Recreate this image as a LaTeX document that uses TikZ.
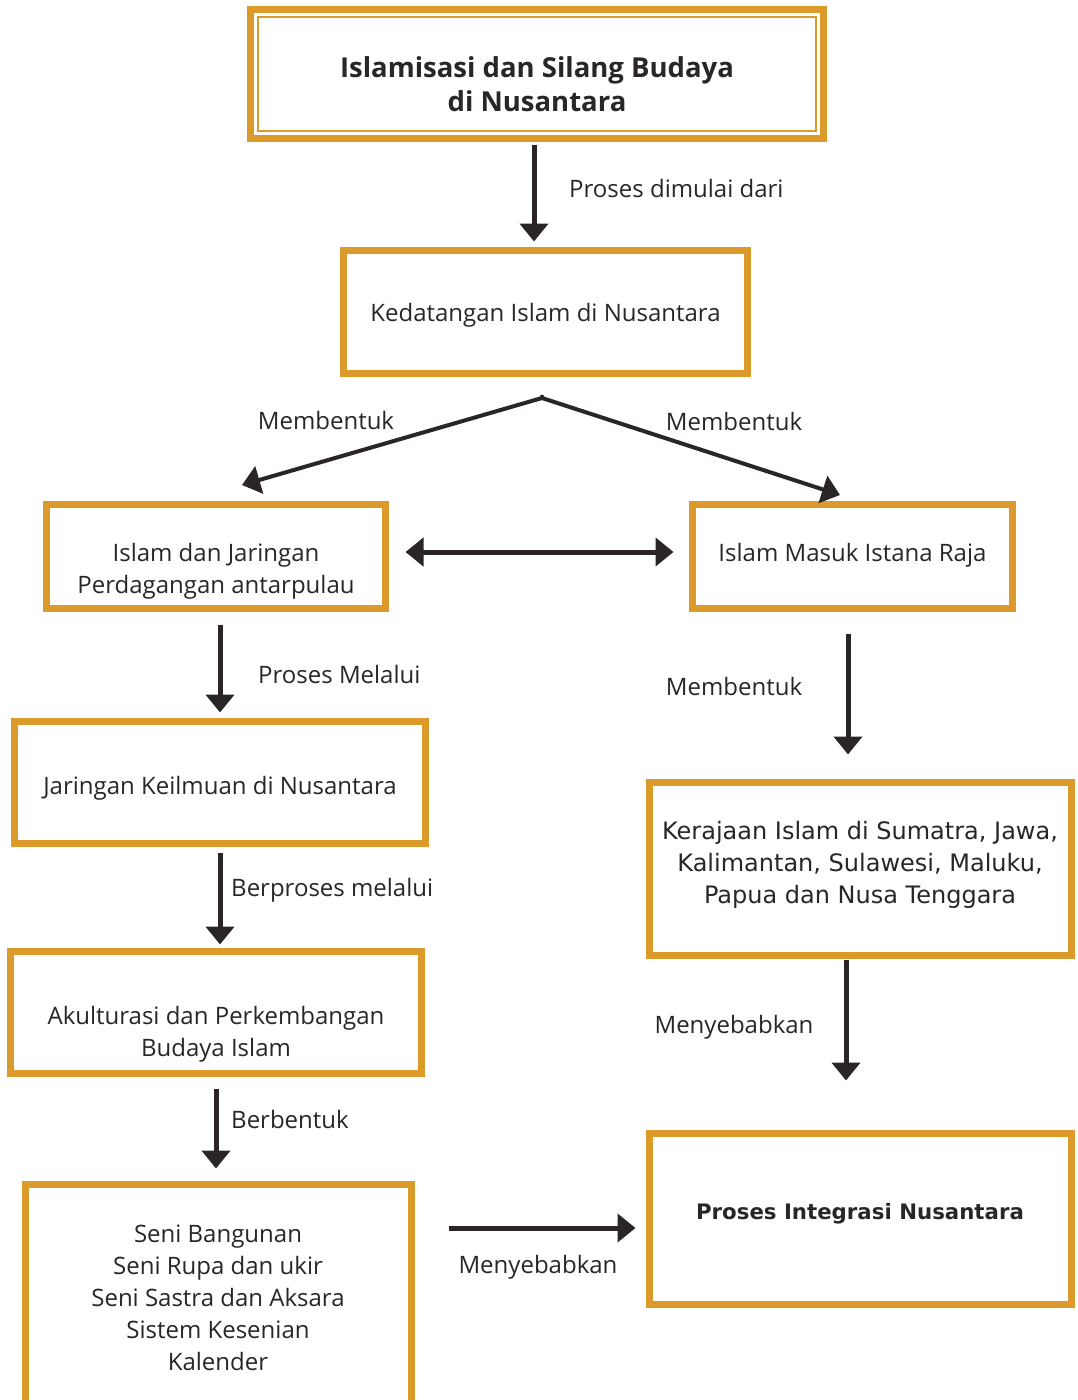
\documentclass[tikz,border=0pt]{standalone}
\usepackage{fontspec}
\setmainfont{Open Sans}
\newfontfamily\kfont{DejaVu Sans}
\usetikzlibrary{arrows.meta}
\definecolor{bx}{HTML}{DC9A2A}
\definecolor{tx}{HTML}{2A2627}
\begin{document}
\begin{tikzpicture}[x=1pt,y=-1pt,
  box/.style={draw=bx,line width=7pt,rectangle,inner sep=0pt,outer sep=0pt},
  txt/.style={text=tx,font=\fontsize{24}{32}\selectfont,align=center,inner sep=0pt},
  lbl/.style={text=tx,font=\fontsize{24}{32}\selectfont,inner sep=0pt},
  ktxt/.style={text=tx,font=\kfont\fontsize{24}{32}\selectfont,align=center,inner sep=0pt},
  arr/.style={draw=tx,line width=5pt,-{Triangle[length=18pt,width=28pt]}},
  darr/.style={draw=tx,line width=5pt,{Triangle[length=18pt,width=28pt]}-{Triangle[length=18pt,width=28pt]}}]
\useasboundingbox (0,0) rectangle (1078,1400);
\clip (0,0) rectangle (1078,1400);
\fill[white] (0,0) rectangle (1078,1400);
% boxes
\node[box,minimum width=573pt,minimum height=129pt] (title) at (537,74) {};
\draw[bx,line width=2pt] ([xshift=7.5pt,yshift=-7.5pt]title.north west) rectangle ([xshift=-7.5pt,yshift=7.5pt]title.south east);
\node[box,minimum width=404pt,minimum height=123pt] (ked) at (545.5,312) {};
\node[box,minimum width=339pt,minimum height=104pt] (jar) at (216,556.5) {};
\node[box,minimum width=320pt,minimum height=104pt] (ist) at (852.5,556.5) {};
\node[box,minimum width=411pt,minimum height=122pt] (keil) at (220,782.5) {};
\node[box,minimum width=411pt,minimum height=122pt] (akul) at (216,1012.5) {};
\node[box,minimum width=386pt,minimum height=265pt] (seni) at (218.5,1317) {};
\node[box,minimum width=422pt,minimum height=173pt] (keraj) at (860.5,869) {};
\node[box,minimum width=422pt,minimum height=171pt] (integ) at (860.5,1219) {};
% texts
\node[txt,font=\bfseries\fontsize{27.5}{34}\selectfont] (titlet) at (537,84) {Islamisasi dan Silang Budaya\\di Nusantara};
\node[txt] (kedt) at (545.5,315) {Kedatangan Islam di Nusantara};
\node[txt] (jart) at (216,571) {Islam dan Jaringan\\Perdagangan antarpulau};
\node[txt] (istt) at (852.5,555) {Islam Masuk Istana Raja};
\node[txt] (keilt) at (220,788) {Jaringan Keilmuan di Nusantara};
\node[txt] (akult) at (216,1034) {Akulturasi dan Perkembangan\\Budaya Islam};
\node[txt] (senit) at (218,1298) {Seni Bangunan\\Seni Rupa dan ukir\\Seni Sastra dan Aksara\\Sistem Kesenian\\Kalender};
\node[ktxt] (kerajt) at (860,865) {Kerajaan Islam di Sumatra, Jawa,\\Kalimantan, Sulawesi, Maluku,\\Papua dan Nusa Tenggara};
\node[ktxt,font=\kfont\bfseries\fontsize{21.3}{30}\selectfont] (integt) at (860,1214) {Proses Integrasi Nusantara};
% connectors
\draw[arr] ([xshift=-3pt,yshift=-6pt]title.south) -- ([xshift=-11.5pt,yshift=9pt]ked.north);
\coordinate (fork) at (542,398);
\draw[draw=tx,line width=4pt,line cap=round] ([xshift=-3.5pt,yshift=-23pt]ked.south) -- (fork);
\draw[arr,line width=4pt] (fork) -- (242,485);
\draw[arr,line width=4pt] (fork) -- (840,495);
\draw[darr] ([xshift=20pt,yshift=4.5pt]jar.east) -- ([xshift=-19pt,yshift=4.5pt]ist.west);
\draw[arr] ([xshift=4pt,yshift=-16pt]jar.south) -- ([yshift=9pt]keil.north);
\draw[arr] ([yshift=-9pt]keil.south) -- ([yshift=7pt]keil.south |- akul.north);
\draw[arr] ([yshift=-15pt]akul.south) -- ([yshift=16pt]akul.south |- seni.north);
\draw[arr] ([xshift=-4.5pt,yshift=-25pt]ist.south) -- ([xshift=-12.5pt,yshift=28pt]keraj.north);
\draw[arr] ([xshift=-14.5pt,yshift=-4pt]keraj.south) -- ([xshift=-14.5pt,yshift=53pt]integ.north);
\draw[arr] ([xshift=37pt,yshift=-9pt]seni.north east |- integ.west) -- ([xshift=-14pt,yshift=-9pt]integ.west);
% labels
\node[lbl,anchor=west] (l1) at (569,188) {Proses dimulai dari};
\node[lbl] (l2) at (326,420) {Membentuk};
\node[lbl] (l3) at (734,421) {Membentuk};
\node[lbl,anchor=west] (l4) at (258,674) {Proses Melalui};
\node[lbl,anchor=west] (l5) at (231,890) {Berproses melalui};
\node[lbl,anchor=west] (l6) at (231,1119) {Berbentuk};
\node[lbl] (l7) at (734,686) {Membentuk};
\node[lbl] (l8) at (734,1027) {Menyebabkan};
\node[lbl] (l9) at (538,1267) {Menyebabkan};
\end{tikzpicture}
\end{document}
